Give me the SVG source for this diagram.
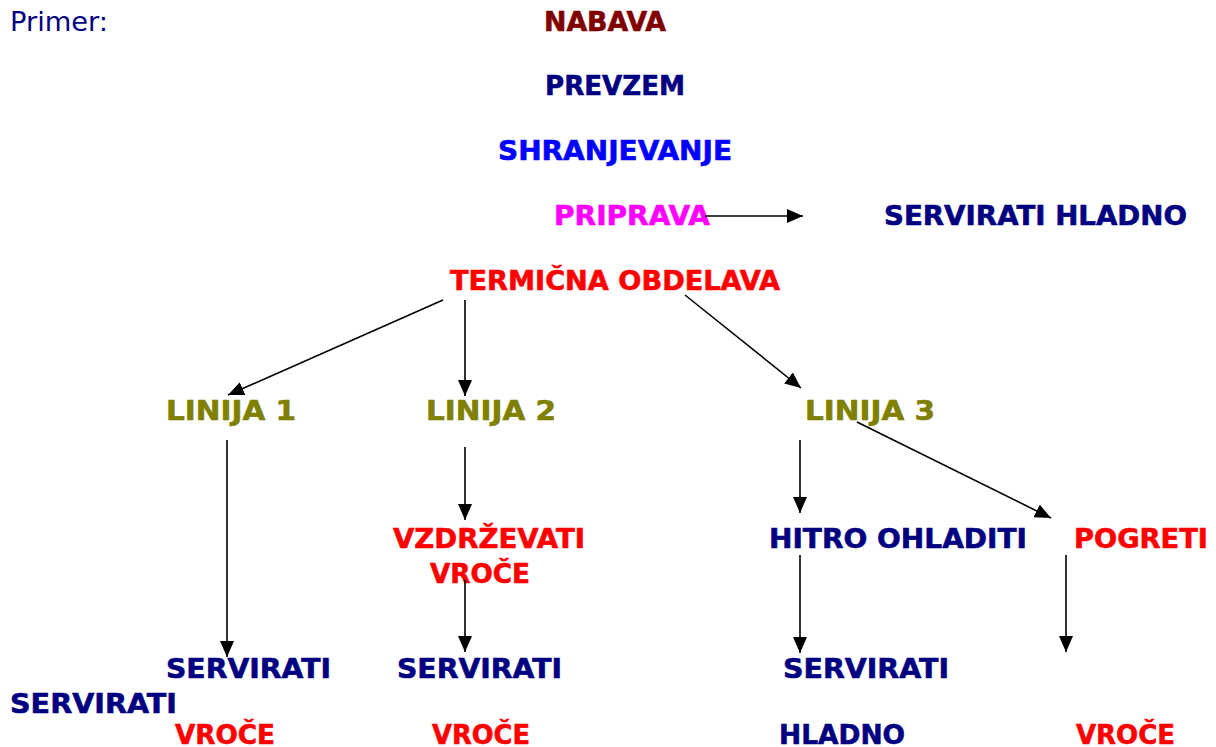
<svg xmlns="http://www.w3.org/2000/svg" width="1216" height="747" viewBox="0 0 1216 747">
<style>
text{font-family:"DejaVu Sans","Liberation Sans",sans-serif;font-weight:bold;font-size:27px;stroke-width:0.6;}
.nv{fill:#000080;stroke:#000080}.rd{fill:#FF0000;stroke:#FF0000}.ol{fill:#808000;stroke:#808000}
.c line{stroke:#000;stroke-width:1.6;marker-end:url(#ah)}
</style>
<defs>
<marker id="ah" viewBox="0 0 16 14" refX="16" refY="7" markerWidth="16" markerHeight="14" markerUnits="userSpaceOnUse" orient="auto"><path d="M0,0 L16,7 L0,14 Z" fill="#000"/></marker>
</defs>
<rect width="1216" height="747" fill="#fff"/>
<g id="primer"><text x="10" y="31" fill="#000080" style="font-weight:normal;stroke:none;font-family:'DejaVu Sans Condensed','DejaVu Sans',sans-serif" textLength="98" lengthAdjust="spacingAndGlyphs">Primer:</text></g>
<g id="nabava"><text x="544" y="31" fill="#800000" stroke="#800000" textLength="122" lengthAdjust="spacingAndGlyphs">NABAVA</text></g>
<g id="prevzem"><text x="545" y="95" class="nv" textLength="140" lengthAdjust="spacingAndGlyphs">PREVZEM</text></g>
<g id="shranjevanje"><text x="498" y="160" fill="#0000FF" stroke="#0000FF" textLength="234" lengthAdjust="spacingAndGlyphs">SHRANJEVANJE</text></g>
<g id="priprava"><text x="554" y="225" fill="#FF00FF" stroke="#FF00FF" textLength="156" lengthAdjust="spacingAndGlyphs">PRIPRAVA</text></g>
<g id="servirati-hladno"><text x="884" y="225" class="nv" textLength="303" lengthAdjust="spacingAndGlyphs">SERVIRATI HLADNO</text></g>
<g id="termicna"><text x="450" y="290" class="rd" textLength="330" lengthAdjust="spacingAndGlyphs">TERMIČNA OBDELAVA</text></g>
<g id="linija1"><text x="166" y="420" class="ol" textLength="130" lengthAdjust="spacingAndGlyphs">LINIJA 1</text></g>
<g id="linija2"><text x="426" y="420" class="ol" textLength="130" lengthAdjust="spacingAndGlyphs">LINIJA 2</text></g>
<g id="linija3"><text x="805" y="420" class="ol" textLength="130" lengthAdjust="spacingAndGlyphs">LINIJA 3</text></g>
<g id="vzdrzevati"><text x="393" y="548" class="rd" textLength="192" lengthAdjust="spacingAndGlyphs">VZDRŽEVATI</text><text x="430" y="583" class="rd" textLength="100" lengthAdjust="spacingAndGlyphs">VROČE</text></g>
<g id="hitro"><text x="769" y="548" class="nv" textLength="258" lengthAdjust="spacingAndGlyphs">HITRO OHLADITI</text></g>
<g id="pogreti"><text x="1074" y="548" class="rd" textLength="134" lengthAdjust="spacingAndGlyphs">POGRETI</text></g>
<g id="serv1"><text x="166" y="678" class="nv" textLength="165" lengthAdjust="spacingAndGlyphs">SERVIRATI</text><text x="175" y="744" class="rd" textLength="100" lengthAdjust="spacingAndGlyphs">VROČE</text></g>
<g id="serv-left"><text x="10" y="713" class="nv" textLength="167" lengthAdjust="spacingAndGlyphs">SERVIRATI</text></g>
<g id="serv2"><text x="397" y="678" class="nv" textLength="165" lengthAdjust="spacingAndGlyphs">SERVIRATI</text><text x="432" y="744" class="rd" textLength="98" lengthAdjust="spacingAndGlyphs">VROČE</text></g>
<g id="serv3"><text x="783" y="678" class="nv" textLength="166" lengthAdjust="spacingAndGlyphs">SERVIRATI</text><text x="779" y="744" class="nv" textLength="126" lengthAdjust="spacingAndGlyphs">HLADNO</text></g>
<g id="serv4"><text x="1076" y="744" class="rd" textLength="99" lengthAdjust="spacingAndGlyphs">VROČE</text></g>
<g id="connectors" class="c">
<line x1="705" y1="216" x2="803" y2="216"/>
<line x1="443" y1="300" x2="228" y2="395"/>
<line x1="465" y1="300" x2="465" y2="396"/>
<line x1="685" y1="295" x2="801" y2="388"/>
<line x1="227" y1="440" x2="227" y2="657"/>
<line x1="465" y1="447" x2="465" y2="520"/>
<line x1="465" y1="580" x2="465" y2="652"/>
<line x1="800" y1="440" x2="800" y2="513"/>
<line x1="857" y1="422" x2="1051" y2="518"/>
<line x1="800" y1="555" x2="800" y2="653"/>
<line x1="1066" y1="555" x2="1066" y2="652"/>
</g>
</svg>
